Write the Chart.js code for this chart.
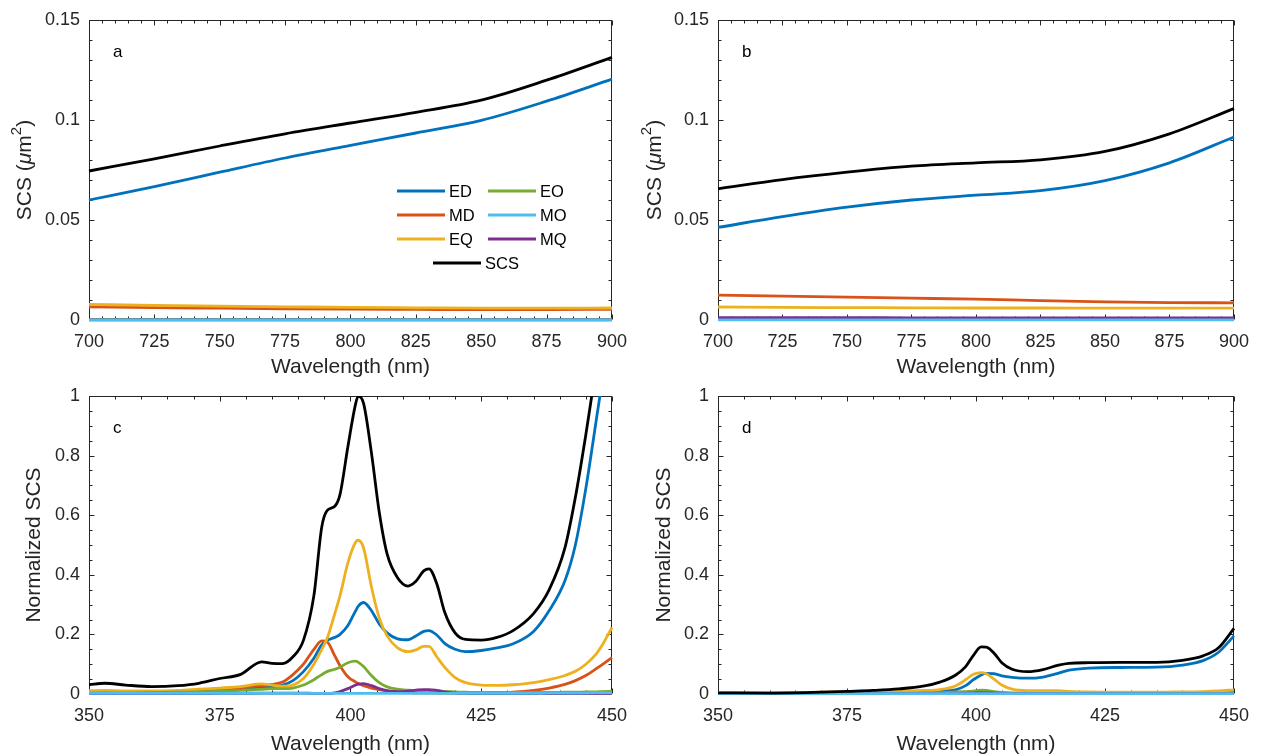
<!DOCTYPE html>
<html>
<head>
<meta charset="utf-8">
<script src="https://cdn.jsdelivr.net/npm/chart.js@4.4.1/dist/chart.umd.min.js"></script>
<style>
    body { margin: 0; background: #fff; }
    #fig { position: relative; width: 1262px; height: 756px; overflow: hidden; }
    #fig canvas { position: absolute; }
</style>
</head>
<body>
<div id="fig">
    <canvas id="panelA" width="640" height="378" style="left:0;top:0"></canvas>
    <canvas id="panelB" width="632" height="378" style="left:630px;top:0"></canvas>
    <canvas id="panelC" width="640" height="378" style="left:0;top:378px"></canvas>
    <canvas id="panelD" width="632" height="378" style="left:630px;top:378px"></canvas>
</div>
<script>
// series order: ED, MD, EQ, EO, MO, MQ, SCS
const seriesNames = ['ED', 'MD', 'EQ', 'EO', 'MO', 'MQ', 'SCS'];
const seriesColors = ['#0072BD', '#D95319', '#EDB120', '#77AC30', '#4DBEEE', '#7E2F8E', '#000000'];
// drawing order (higher = further back): MO sits above MQ, SCS on top
const seriesOrder = [7, 6, 5, 4, 2, 3, 1];

// tick labels
const xTicksTop = [700, 725, 750, 775, 800, 825, 850, 875, 900];
const yTicksTop = [0, 0.05, 0.1, 0.15];
const yTickLabelsTop = ['0', '0.05', '0.1', '0.15'];
const xTicksBottom = [350, 375, 400, 425, 450];
const yTicksBottom = [0, 0.2, 0.4, 0.6, 0.8, 1];
const yTickLabelsBottom = ['0', '0.2', '0.4', '0.6', '0.8', '1'];

// wavelengths (nm)
const wlTop = [700, 725, 750, 775, 800, 825, 850, 875, 900];
const wlC = [350, 353, 357, 362, 367, 371, 375, 379, 383, 385, 387, 389, 391, 393, 394.5, 395.5, 397, 398, 399.5, 401,
    401.5, 402.5, 404, 405.5, 407, 409, 411, 412.5, 414, 415, 416.5, 418, 420, 422, 425, 428, 431, 435, 438, 441,
    443, 445, 447, 448, 450];
const wlD = [350, 360, 370, 375, 380, 385, 390, 393, 396, 398, 399.5, 401, 402, 403.5, 405, 407, 410, 413, 416, 418,
    422, 428, 435, 440, 444, 447, 450];

// panel a (SCS, um^2)
const edA = [0.0600, 0.0667, 0.0739, 0.0810, 0.0873, 0.0935, 0.0998, 0.1094, 0.1204];
const mdA = [0.0066, 0.0062, 0.0059, 0.0056, 0.0054, 0.0053, 0.0052, 0.0052, 0.0053];
const eqA = [0.0078, 0.0073, 0.0069, 0.0066, 0.0063, 0.0061, 0.0059, 0.0059, 0.0060];
const eoA = [0.0003, 0.0003, 0.0003, 0.0003, 0.0003, 0.0002, 0.0002, 0.0002, 0.0002];
const moA = [0.0001, 0.0001, 0.0001, 0.0001, 0.0001, 0.0001, 0.0001, 0.0001, 0.0001];
const mqA = [0.0001, 0.0001, 0.0001, 0.0001, 0.0001, 0.0001, 0.0001, 0.0001, 0.0001];
const scsA = [0.0745, 0.0806, 0.0870, 0.0931, 0.0985, 0.1038, 0.1099, 0.1199, 0.1313];

// panel b
const edB = [0.0463, 0.0517, 0.0564, 0.0600, 0.0624, 0.0647, 0.0697, 0.0786, 0.0915];
const mdB = [0.0124, 0.0119, 0.0114, 0.0109, 0.0104, 0.0097, 0.0091, 0.0087, 0.0086];
const eqB = [0.0065, 0.0063, 0.0062, 0.0061, 0.0060, 0.0060, 0.0059, 0.0059, 0.0059];
const eoB = [0.0003, 0.0003, 0.0003, 0.0003, 0.0003, 0.0003, 0.0003, 0.0003, 0.0003];
const moB = [0.0001, 0.0001, 0.0001, 0.0001, 0.0001, 0.0001, 0.0001, 0.0001, 0.0001];
const mqB = [0.0012, 0.0012, 0.0012, 0.0011, 0.0011, 0.0011, 0.0010, 0.0010, 0.0010];
const scsB = [0.0656, 0.0702, 0.0739, 0.0769, 0.0786, 0.0801, 0.0843, 0.0931, 0.1057];

// panel c (normalized)
const edC = [0.005, 0.005, 0.005, 0.006, 0.008, 0.010, 0.013, 0.017, 0.022, 0.025, 0.030, 0.045, 0.075, 0.12, 0.165,
    0.18, 0.19, 0.20, 0.23, 0.28, 0.295, 0.307, 0.28, 0.235, 0.205, 0.185, 0.182, 0.195, 0.21, 0.213, 0.198, 0.17,
    0.15, 0.142, 0.146, 0.155, 0.168, 0.21, 0.28, 0.38, 0.50, 0.69, 0.92, 1.04, 1.35];
const mdC = [0.006, 0.006, 0.006, 0.006, 0.008, 0.010, 0.014, 0.020, 0.028, 0.032, 0.040, 0.065, 0.10, 0.15, 0.178,
    0.175, 0.128, 0.095, 0.058, 0.040, 0.035, 0.028, 0.020, 0.015, 0.010, 0.007, 0.005, 0.004, 0.004, 0.004, 0.003,
    0.003, 0.003, 0.003, 0.003, 0.004, 0.006, 0.012, 0.020, 0.032, 0.045, 0.062, 0.085, 0.097, 0.122];
const eqC = [0.011, 0.012, 0.010, 0.010, 0.012, 0.016, 0.020, 0.025, 0.034, 0.030, 0.026, 0.030, 0.052, 0.10, 0.15,
    0.185, 0.27, 0.33, 0.44, 0.51, 0.516, 0.49, 0.36, 0.255, 0.195, 0.155, 0.142, 0.148, 0.16, 0.16, 0.125, 0.09,
    0.055, 0.038, 0.030, 0.029, 0.031, 0.038, 0.048, 0.062, 0.076, 0.10, 0.135, 0.16, 0.223];
const eoC = [0.004, 0.004, 0.004, 0.005, 0.006, 0.007, 0.009, 0.012, 0.016, 0.018, 0.018, 0.020, 0.030, 0.048, 0.065,
    0.075, 0.083, 0.09, 0.105, 0.11, 0.106, 0.092, 0.062, 0.038, 0.024, 0.016, 0.013, 0.012, 0.012, 0.012, 0.011,
    0.009, 0.007, 0.006, 0.005, 0.005, 0.005, 0.005, 0.005, 0.006, 0.006, 0.007, 0.007, 0.008, 0.009];
const moC = [0.002, 0.002, 0.002, 0.002, 0.002, 0.002, 0.002, 0.002, 0.002, 0.002, 0.002, 0.002, 0.002, 0.002, 0.002,
    0.002, 0.002, 0.002, 0.002, 0.002, 0.002, 0.002, 0.002, 0.002, 0.002, 0.002, 0.002, 0.002, 0.002, 0.002, 0.002,
    0.002, 0.002, 0.002, 0.002, 0.002, 0.002, 0.002, 0.003, 0.003, 0.003, 0.003, 0.004, 0.004, 0.004];
const mqC = [0.001, 0.001, 0.001, 0.001, 0.001, 0.001, 0.002, 0.002, 0.003, 0.003, 0.003, 0.003, 0.003, 0.002, 0.002,
    0.002, 0.004, 0.008, 0.018, 0.030, 0.033, 0.035, 0.028, 0.018, 0.011, 0.008, 0.010, 0.013, 0.015, 0.015, 0.012,
    0.007, 0.003, 0.002, 0.001, 0.001, 0.001, 0.001, 0.001, 0.001, 0.001, 0.001, 0.001, 0.001, 0.001];
const scsC = [0.031, 0.036, 0.030, 0.025, 0.028, 0.036, 0.052, 0.066, 0.108, 0.103, 0.102, 0.125, 0.18, 0.33, 0.56,
    0.615, 0.63, 0.67, 0.83, 0.975, 1.0, 0.975, 0.81, 0.61, 0.47, 0.39, 0.362, 0.378, 0.413, 0.42, 0.37, 0.275,
    0.205, 0.183, 0.181, 0.19, 0.212, 0.27, 0.35, 0.49, 0.66, 0.87, 1.1, 1.22, 1.5];

// panel d (normalized)
const edD = [0.002, 0.002, 0.003, 0.004, 0.005, 0.006, 0.008, 0.010, 0.014, 0.028, 0.048, 0.064, 0.069, 0.068, 0.061,
    0.056, 0.053, 0.057, 0.070, 0.080, 0.087, 0.089, 0.090, 0.097, 0.112, 0.140, 0.195];
const mdD = [0.003, 0.003, 0.003, 0.003, 0.003, 0.003, 0.004, 0.005, 0.006, 0.006, 0.005, 0.005, 0.004, 0.004, 0.003,
    0.003, 0.003, 0.003, 0.003, 0.003, 0.003, 0.003, 0.003, 0.004, 0.004, 0.005, 0.006];
const eqD = [0.004, 0.004, 0.006, 0.007, 0.008, 0.010, 0.012, 0.015, 0.027, 0.048, 0.066, 0.072, 0.068, 0.050, 0.030,
    0.016, 0.011, 0.011, 0.011, 0.009, 0.007, 0.006, 0.006, 0.007, 0.008, 0.010, 0.014];
const eoD = [0.002, 0.002, 0.002, 0.002, 0.002, 0.002, 0.003, 0.004, 0.006, 0.008, 0.010, 0.013, 0.012, 0.008, 0.005,
    0.003, 0.002, 0.002, 0.002, 0.002, 0.002, 0.002, 0.002, 0.002, 0.002, 0.002, 0.002];
const moD = [0.001, 0.001, 0.001, 0.001, 0.001, 0.001, 0.001, 0.001, 0.001, 0.001, 0.001, 0.001, 0.001, 0.001, 0.001,
    0.001, 0.001, 0.001, 0.001, 0.001, 0.001, 0.001, 0.001, 0.001, 0.001, 0.001, 0.001];
const mqD = [0.001, 0.001, 0.001, 0.001, 0.001, 0.001, 0.001, 0.001, 0.001, 0.002, 0.003, 0.004, 0.004, 0.003, 0.002,
    0.001, 0.001, 0.001, 0.001, 0.001, 0.001, 0.001, 0.001, 0.001, 0.001, 0.001, 0.001];
const scsD = [0.004, 0.003, 0.006, 0.009, 0.012, 0.017, 0.027, 0.040, 0.063, 0.092, 0.13, 0.158, 0.157, 0.137, 0.105,
    0.083, 0.075, 0.082, 0.097, 0.103, 0.105, 0.106, 0.106, 0.113, 0.128, 0.155, 0.22];

const axisColor = '#262626';
const fontFamily = '"Liberation Sans", Arial, Helvetica, sans-serif';

// y title with italic mu and a raised 2, drawn as canvas text
function drawUnitTitle(ctx, cx, cy) {
    const parts = [
        { t: 'SCS (', f: '21px ' + fontFamily, dy: 0 },
        { t: '\u03bc', f: 'italic 21px ' + fontFamily, dy: 0 },
        { t: 'm', f: '21px ' + fontFamily, dy: 0 },
        { t: '2', f: '15px ' + fontFamily, dy: -8 },
        { t: ')', f: '21px ' + fontFamily, dy: 0 }
    ];
    let total = 0;
    parts.forEach(p => { ctx.font = p.f; p.w = ctx.measureText(p.t).width; total += p.w; });
    ctx.save();
    ctx.translate(cx, cy);
    ctx.rotate(-Math.PI / 2);
    ctx.fillStyle = axisColor;
    ctx.textBaseline = 'middle';
    let x = -total / 2;
    parts.forEach(p => {
        ctx.font = p.f;
        ctx.fillText(p.t, x, p.dy + 1);
        x += p.w;
    });
    ctx.restore();
}

// frame, inward ticks, panel letter and (panel a) legend
const framePlugin = {
    id: 'frame',
    beforeDatasetsDraw(chart, args, opts) {
        const { ctx, chartArea: a } = chart;
        const xs = chart.scales.x, ys = chart.scales.y;
        ctx.save();
        ctx.strokeStyle = axisColor;
        ctx.lineWidth = 1;
        const L = Math.round(a.left) + 0.5, R = Math.round(a.right) - 0.5;
        const T = Math.round(a.top) + 0.5, B = Math.round(a.bottom) - 0.5;
        ctx.strokeRect(L, T, R - L, B - T);

        ctx.beginPath();
        const eps = 1e-9;
        for (let v = xs.min; v <= xs.max + eps; v += opts.xMinor) {
            const major = opts.xMajor.some(m => Math.abs(m - v) < 1e-6);
            const len = major ? 5 : 3;
            const px = Math.round(xs.getPixelForValue(v)) + 0.5;
            ctx.moveTo(px, B); ctx.lineTo(px, B - len);
            ctx.moveTo(px, T); ctx.lineTo(px, T + len);
        }
        for (let v = ys.min; v <= ys.max + eps; v += opts.yMinor) {
            const major = opts.yMajor.some(m => Math.abs(m - v) < 1e-6);
            const len = major ? 5 : 3;
            const py = Math.round(ys.getPixelForValue(v)) + 0.5;
            ctx.moveTo(L, py); ctx.lineTo(L + len, py);
            ctx.moveTo(R, py); ctx.lineTo(R - len, py);
        }
        ctx.stroke();
        ctx.restore();
    },
    afterDatasetsDraw(chart, args, opts) {
        const { ctx, chartArea: a } = chart;
        ctx.save();
        ctx.fillStyle = '#000';
        ctx.font = '17px ' + fontFamily;
        ctx.textBaseline = 'alphabetic';
        ctx.fillText(opts.letter, a.left + 24, a.top + 37);

        if (opts.unitTitle) {
            drawUnitTitle(ctx, 24, (a.top + a.bottom) / 2);
        }

        if (opts.legend) {
            const sets = chart.data.datasets;
            const x0 = a.left + 308, y0 = a.top + 171;
            const lineLen = 48, rowH = 24, colW = 91;
            ctx.font = '16.5px ' + fontFamily;
            ctx.textBaseline = 'middle';
            ctx.lineWidth = 2.8;
            const item = (ds, x, y) => {
                ctx.strokeStyle = ds.borderColor;
                ctx.beginPath();
                ctx.moveTo(x, y); ctx.lineTo(x + lineLen, y);
                ctx.stroke();
                ctx.fillStyle = '#000';
                ctx.fillText(ds.label, x + lineLen + 4, y + 1);
            };
            for (let i = 0; i < 3; i++) {
                item(sets[i], x0, y0 + i * rowH);
                item(sets[i + 3], x0 + colW, y0 + i * rowH);
            }
            item(sets[6], x0 + 36, y0 + 3 * rowH);
        }
        ctx.restore();
    }
};

function buildSets(wl, cols) {
    return cols.map((vals, i) => ({
        label: seriesNames[i],
        data: wl.map((w, j) => ({ x: w, y: vals[j] })),
        borderColor: seriesColors[i],
        backgroundColor: seriesColors[i],
        borderWidth: 2.8,
        pointRadius: 0,
        fill: false,
        cubicInterpolationMode: 'monotone',
        // lines lying on zero keep their full width; peaks are cut at the top frame
        clip: { left: 2, right: 2, top: 0, bottom: 3 },
        order: seriesOrder[i]
    }));
}

function makePanel(id, p) {
    const ctx = document.getElementById(id).getContext('2d');
    return new Chart(ctx, {
        type: 'line',
        data: { datasets: buildSets(p.wl, p.cols) },
        options: {
            responsive: false,
            animation: false,
            events: [],
            layout: { padding: { left: 0, right: p.padRight, top: p.padTop, bottom: 0 } },
            plugins: {
                legend: { display: false },
                tooltip: { enabled: false },
                frame: {
                    letter: p.letter,
                    legend: !!p.legend,
                    unitTitle: !!p.unitTitle,
                    xMajor: p.xTicks, xMinor: 5,
                    yMajor: p.yTicks, yMinor: p.yMinor
                }
            },
            scales: {
                x: {
                    type: 'linear',
                    min: p.xTicks[0],
                    max: p.xTicks[p.xTicks.length - 1],
                    grid: { display: false, drawTicks: false },
                    border: { display: false },
                    afterBuildTicks: s => { s.ticks = p.xTicks.map(v => ({ value: v })); },
                    afterFit: s => { s.height = p.xAxisHeight; },
                    ticks: {
                        autoSkip: false,
                        maxRotation: 0,
                        padding: 13,
                        color: axisColor,
                        font: { family: fontFamily, size: 18, lineHeight: 1 },
                        callback: v => String(v)
                    },
                    title: {
                        display: true,
                        text: 'Wavelength (nm)',
                        color: axisColor,
                        font: { family: fontFamily, size: 21, lineHeight: 1 },
                        padding: { top: 0, bottom: p.xTitlePad }
                    }
                },
                y: {
                    min: p.yTicks[0],
                    max: p.yTicks[p.yTicks.length - 1],
                    grid: { display: false, drawTicks: false },
                    border: { display: false },
                    afterBuildTicks: s => { s.ticks = p.yTicks.map(v => ({ value: v })); },
                    afterFit: s => { s.width = p.yAxisWidth; },
                    ticks: {
                        padding: 9,
                        color: axisColor,
                        font: { family: fontFamily, size: 18, lineHeight: 1 },
                        callback: (v, i) => p.yLabels[i]
                    },
                    title: {
                        display: !p.unitTitle,
                        text: p.yTitle,
                        color: axisColor,
                        font: { family: fontFamily, size: 21, lineHeight: 1 },
                        padding: { top: p.yTitlePad, bottom: 0 }
                    }
                }
            }
        },
        plugins: [framePlugin]
    });
}

document.addEventListener('DOMContentLoaded', function() {
    const top = { xTicks: xTicksTop, yTicks: yTicksTop, yLabels: yTickLabelsTop, yMinor: 0.01,
        yTitle: 'SCS (\u03bcm\u00b2)', unitTitle: true, padTop: 20, xAxisHeight: 58, xTitlePad: 0, yTitlePad: 14 };
    const bottom = { xTicks: xTicksBottom, yTicks: yTicksBottom, yLabels: yTickLabelsBottom, yMinor: 0.05,
        yTitle: 'Normalized SCS', padTop: 18, xAxisHeight: 62, xTitlePad: 1, yTitlePad: 24 };

    makePanel('panelA', Object.assign({}, top, { wl: wlTop, cols: [edA, mdA, eqA, eoA, moA, mqA, scsA],
        letter: 'a', legend: true, yAxisWidth: 89, padRight: 27 }));
    makePanel('panelB', Object.assign({}, top, { wl: wlTop, cols: [edB, mdB, eqB, eoB, moB, mqB, scsB],
        letter: 'b', yAxisWidth: 88, padRight: 20 }));
    makePanel('panelC', Object.assign({}, bottom, { wl: wlC, cols: [edC, mdC, eqC, eoC, moC, mqC, scsC],
        letter: 'c', yAxisWidth: 89, padRight: 27 }));
    makePanel('panelD', Object.assign({}, bottom, { wl: wlD, cols: [edD, mdD, eqD, eoD, moD, mqD, scsD],
        letter: 'd', yAxisWidth: 88, padRight: 20 }));
});
</script>
</body>
</html>
